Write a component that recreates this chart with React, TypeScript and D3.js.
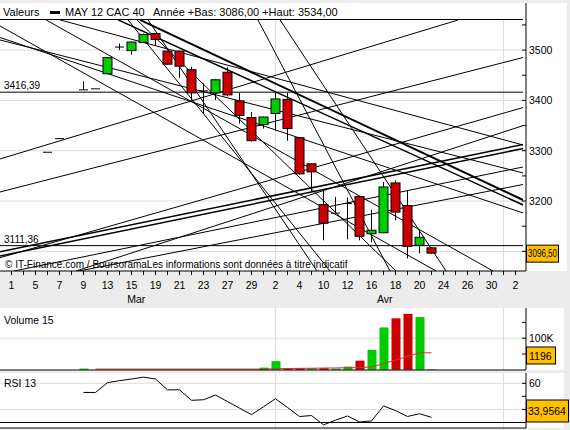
import React from 'react';
import * as d3 from 'd3';

const FONT = "'Liberation Sans', Arial, sans-serif";

// ---- x axis (trading days) ----
const dayLabels = ['1','5','7','9','13','15','19','21','23','27','29','2','4','10','12','16','18','20','24','26','30','2'];
const monthNames = ['Mar', 'Avr'];
const monthLabelIdx = [10.4, 31.1];
const monthGridIdx = [22, 41];

// ---- candles (day index, open, high, low, close) ----
const cIdx   = [3, 4, 6, 7, 8, 9, 10, 11, 12, 13, 14, 15, 16, 17, 18, 19, 20, 21, 22, 23, 24, 25, 26, 27, 28, 29, 30, 31, 32, 33, 34, 35];
const cOpen  = [3297, 3324, 3421, 3423, 3453, 3506, 3499, 3515, 3533, 3498, 3498, 3461, 3419, 3415, 3456, 3399, 3366, 3352, 3374, 3402, 3326, 3274, 3193, 3176, 3195, 3209, 3135, 3137, 3236, 3191, 3112, 3107];
const cHigh  = [3297, 3324, 3438, 3423, 3486, 3513, 3517, 3533, 3534, 3499, 3499, 3467, 3434, 3442, 3466, 3415, 3377, 3368, 3415, 3415, 3327, 3275, 3223, 3208, 3207, 3210, 3183, 3238, 3241, 3221, 3141, 3108];
const cLow   = [3297, 3324, 3421, 3423, 3452, 3500, 3491, 3514, 3509, 3471, 3445, 3400, 3374, 3401, 3408, 3354, 3318, 3344, 3340, 3320, 3253, 3218, 3122, 3176, 3124, 3122, 3118, 3136, 3162, 3086, 3096, 3095];
const cClose = [3297, 3324, 3421, 3423, 3485, 3506, 3516, 3531, 3521, 3472, 3468, 3415, 3419, 3441, 3411, 3370, 3320, 3367, 3403, 3344, 3254, 3258, 3156, 3176, 3195, 3130, 3142, 3228, 3178, 3110, 3128, 3096.5];

// ---- horizontal support lines ----
const hLevels = [3416.39, 3111.36];
const hLabels = ['3416,39', '3111,36'];

// ---- trend lines: [idx1, price1, idx2, price2, strokeWidth] ----
const trendLines: number[][] = [
  // rising supports
  [-0.96, 3283.6, 37.21, 3559.8, 1],
  [-0.96, 3218.0, 42.79, 3486.3, 1],
  [-0.96, 3087.4, 42.79, 3386.9, 1],
  [5.38, 3061, 42.79, 3351.1, 1],
  [-0.96, 3099.4, 42.63, 3312.4, 1.5],
  [-0.96, 3090.8, 42.63, 3304.4, 1.5],
  [0.21, 3061, 42.63, 3267.7, 1],
  [5.63, 3061, 42.63, 3232.9, 1],
  // falling resistances
  [-0.96, 3547.9, 35.38, 3061, 1],
  [2.88, 3560, 40.13, 3061, 1],
  [10.71, 3560, 42.63, 3202.1, 2],
  [8.88, 3560, 42.63, 3192.2, 1.5],
  [-0.96, 3525.0, 42.63, 3176.3, 1],
  [-0.96, 3520.1, 42.63, 3255.8, 1],
  [4.04, 3560, 42.63, 3311.4, 1],
  // steep falling fan
  [22.38, 3560, 36.21, 3061, 1],
  [20.54, 3560, 31.54, 3061, 1],
  [11.38, 3560, 25.46, 3061, 1],
  [9.71, 3560, 26.54, 3061, 1],
  [10.46, 3560, 32.04, 3061, 1],
];

// ---- volume ----
const vIdx = [6, 21, 22, 23, 24, 25, 26, 27, 28, 29, 30, 31, 32, 33, 34, 35];
const vVal = [4000, 7000, 27600, 5000, 5000, 5000, 5000, 4000, 10000, 29000, 63000, 134000, 163000, 177000, 167000, 1196];
const vUp  = [1, 1, 1, 0, 0, 1, 0, 1, 1, 0, 1, 1, 0, 0, 1, 0];
const maIdx = [7, 8, 9, 10, 11, 12, 13, 14, 15, 16, 17, 18, 19, 20, 21, 22, 23, 24, 25, 26, 27, 28, 29, 30, 31, 32, 33, 34, 35];
const maVal = [2300, 2300, 2300, 2300, 2300, 2300, 2300, 2300, 2300, 2300, 2300, 2300, 2300, 2300, 2300, 3500, 4000, 4500, 5000, 5500, 6000, 6500, 7000, 9000, 19000, 31000, 42500, 53500, 54000];

// ---- RSI 13 ----
const rIdx = [6, 7, 8, 9, 10, 11, 12, 13, 14, 15, 16, 17, 18, 19, 20, 21, 22, 23, 24, 25, 26, 27, 28, 29, 30, 31, 32, 33, 34, 35];
const rVal = [53, 53, 60.5, 62, 63.3, 64.7, 63.3, 55, 55, 47, 47.4, 51, 46, 41, 36, 42, 48.2, 41.5, 34.6, 35.3, 28.2, 31.8, 35, 30.4, 31.2, 42.7, 39.1, 34.6, 36.7, 33.96];

const GREEN = '#00cc00';
const RED = '#cc0000';
const GRID = '#dcdcdc';
const BG = '#ececec';
const YEL = '#ffc000';

export default function App() {
  const x = d3.scaleLinear().domain([0, 42]).range([11.5, 515.5]);
  const y = d3.scaleLinear().domain([3060, 3560]).range([271.5, 19.9]);
  const yv = d3.scaleLinear().domain([0, 100000]).range([369.8, 338.2]);
  const yr = d3.scaleLinear().domain([30, 60]).range([422.5, 383.3]);

  const axisX = 526;
  const plotR = 523;

  const priceTicks = d3.range(3100, 3551, 50);
  const maLine = d3.line<number>().x((d, k) => x(maIdx[k])).y(d => yv(d));
  const rsiLine = d3.line<number>().x((d, k) => x(rIdx[k])).y(d => yr(d));

  const dayTicks = d3.range(0, 43);

  return (
    <svg width={570} height={430} style={{ position: 'absolute', left: 0, top: 0 }} fontFamily={FONT}>
      <defs>
        <clipPath id="mainClip"><rect x={0} y={20} width={plotR} height={251} /></clipPath>
      </defs>
      <rect x={0} y={0} width={570} height={430} fill={BG} />

      {/* ===== main panel ===== */}
      <rect x={0} y={3} width={567} height={268} fill="#fff" />
      {priceTicks.filter(p => p % 100 === 0).map(p => (
        <line key={'g' + p} x1={0} x2={plotR} y1={y(p)} y2={y(p)} stroke={GRID} />
      ))}
      {monthGridIdx.map(m => (
        <line key={'mg' + m} x1={x(m)} x2={x(m)} y1={20} y2={271} stroke={GRID} />
      ))}
      {/* header */}
      <text x={3} y={16} fontSize={11}>Valeurs</text>
      <rect x={50} y={11} width={10} height={3} fill="#000" />
      <text x={65} y={16} fontSize={11}>MAY 12 CAC 40</text>
      <text x={153} y={16} fontSize={11}>Année +Bas: 3086,00 +Haut: 3534,00</text>
      <line x1={0} x2={plotR} y1={19.5} y2={19.5} stroke="#000" />

      <g clipPath="url(#mainClip)">
        {hLevels.map(p => (
          <line key={'h' + p} x1={0} x2={plotR} y1={y(p)} y2={y(p)} stroke="#000" />
        ))}
        {trendLines.map((t, k) => (
          <line key={'t' + k} x1={x(t[0])} y1={y(t[1])} x2={x(t[2])} y2={y(t[3])} stroke="#000" strokeWidth={t[4]} />
        ))}
      </g>
      {hLevels.map((p, k) => (
        <text key={'hl' + p} x={4} y={y(p) - 3} fontSize={10}>{hLabels[k]}</text>
      ))}

      {/* candles */}
      {cIdx.map((ci, k) => {
        const cx = x(ci);
        const o = cOpen[k], c = cClose[k];
        const top = y(Math.max(o, c)), bot = y(Math.min(o, c));
        return (
          <g key={'c' + ci}>
            <line x1={cx} x2={cx} y1={y(cHigh[k])} y2={y(cLow[k])} stroke="#000" />
            {o === c ? (
              <line x1={cx - 4.5} x2={cx + 4.5} y1={top} y2={top} stroke="#000" />
            ) : (
              <rect x={cx - 4.5} y={top} width={9} height={Math.max(1, bot - top)} fill={c > o ? GREEN : RED} stroke="#000" />
            )}
          </g>
        );
      })}

      <text x={5} y={268} fontSize={10}>© IT-Finance.com / BoursoramaLes informations sont données à titre indicatif</text>

      {/* right axis */}
      <line x1={axisX} x2={axisX} y1={3} y2={271} stroke="#000" />
      {priceTicks.map(p => (
        <line key={'pt' + p} x1={axisX - 4} x2={axisX} y1={y(p)} y2={y(p)} stroke="#000" />
      ))}
      {priceTicks.filter(p => p % 100 === 0 && p > 3100).map(p => (
        <text key={'pl' + p} x={529} y={y(p) + 4} fontSize={10.5}>{p}</text>
      ))}
      <rect x={526.5} y={y(3096.5) - 8} width={32} height={17} fill={YEL} stroke="#000" />
      <text x={528} y={y(3096.5) + 4} fontSize={10.5} textLength={29} lengthAdjust="spacingAndGlyphs">3096,50</text>

      {/* x axis */}
      <line x1={0} x2={axisX} y1={271} y2={271} stroke="#000" />
      {dayTicks.map(d => (
        <line key={'dt' + d} x1={x(d)} x2={x(d)} y1={271} y2={275} stroke="#000" />
      ))}
      {dayLabels.map((l, k) => (
        <text key={'dl' + k} x={x(k * 2)} y={289} fontSize={10.5} textAnchor="middle">{l}</text>
      ))}
      {monthNames.map((m, k) => (
        <text key={'mn' + m} x={x(monthLabelIdx[k])} y={303} fontSize={10.5} textAnchor="middle">{m}</text>
      ))}

      {/* ===== volume panel ===== */}
      <rect x={0} y={308} width={564} height={62} fill="#fff" />
      <line x1={0} x2={axisX} y1={yv(100000)} y2={yv(100000)} stroke={GRID} />
      {monthGridIdx.map(m => (
        <line key={'vg' + m} x1={x(m)} x2={x(m)} y1={308} y2={370} stroke={GRID} />
      ))}
      <text x={4} y={324} fontSize={10.5}>Volume 15</text>
      {vIdx.map((vi, k) => (
        <rect key={'v' + vi} x={x(vi) - 4} y={yv(vVal[k])} width={9} height={yv(0) - yv(vVal[k])} fill={vUp[k] ? GREEN : RED} />
      ))}
      <path d={maLine(maVal) || ''} fill="none" stroke="#e03030" strokeWidth={1} />
      <line x1={0} x2={axisX} y1={370} y2={370} stroke="#000" />
      <line x1={axisX} x2={axisX} y1={308} y2={370} stroke="#000" />
      {[50000, 100000, 150000].map(v => (
        <line key={'vt' + v} x1={axisX - 4} x2={axisX} y1={yv(v)} y2={yv(v)} stroke="#000" />
      ))}
      <text x={529} y={yv(100000) + 4} fontSize={10.5}>100K</text>
      <rect x={526.5} y={347} width={29} height={17} fill={YEL} stroke="#000" />
      <text x={529} y={360} fontSize={10.5}>1196</text>

      {/* ===== RSI panel ===== */}
      <rect x={0} y={373} width={564} height={55} fill="#fff" />
      {[60, 40].map(v => (
        <line key={'rg' + v} x1={0} x2={axisX} y1={yr(v)} y2={yr(v)} stroke={GRID} />
      ))}
      {monthGridIdx.map(m => (
        <line key={'rgv' + m} x1={x(m)} x2={x(m)} y1={373} y2={428} stroke={GRID} />
      ))}
      <text x={4} y={387} fontSize={10.5}>RSI 13</text>
      <line x1={0} x2={axisX} y1={yr(30)} y2={yr(30)} stroke="#000" />
      <path d={rsiLine(rVal) || ''} fill="none" stroke="#000" strokeWidth={1} />
      <line x1={0} x2={axisX} y1={428} y2={428} stroke="#000" />
      <line x1={axisX} x2={axisX} y1={373} y2={428} stroke="#000" />
      {[60, 50, 40].map(v => (
        <line key={'rt' + v} x1={axisX - 4} x2={axisX} y1={yr(v)} y2={yr(v)} stroke="#000" />
      ))}
      <text x={529} y={yr(60) + 4} fontSize={10.5}>60</text>
      <rect x={526.5} y={400} width={42} height={22} fill={YEL} stroke="#000" />
      <text x={528} y={415} fontSize={10.5}>33,9564</text>
    </svg>
  );
}
